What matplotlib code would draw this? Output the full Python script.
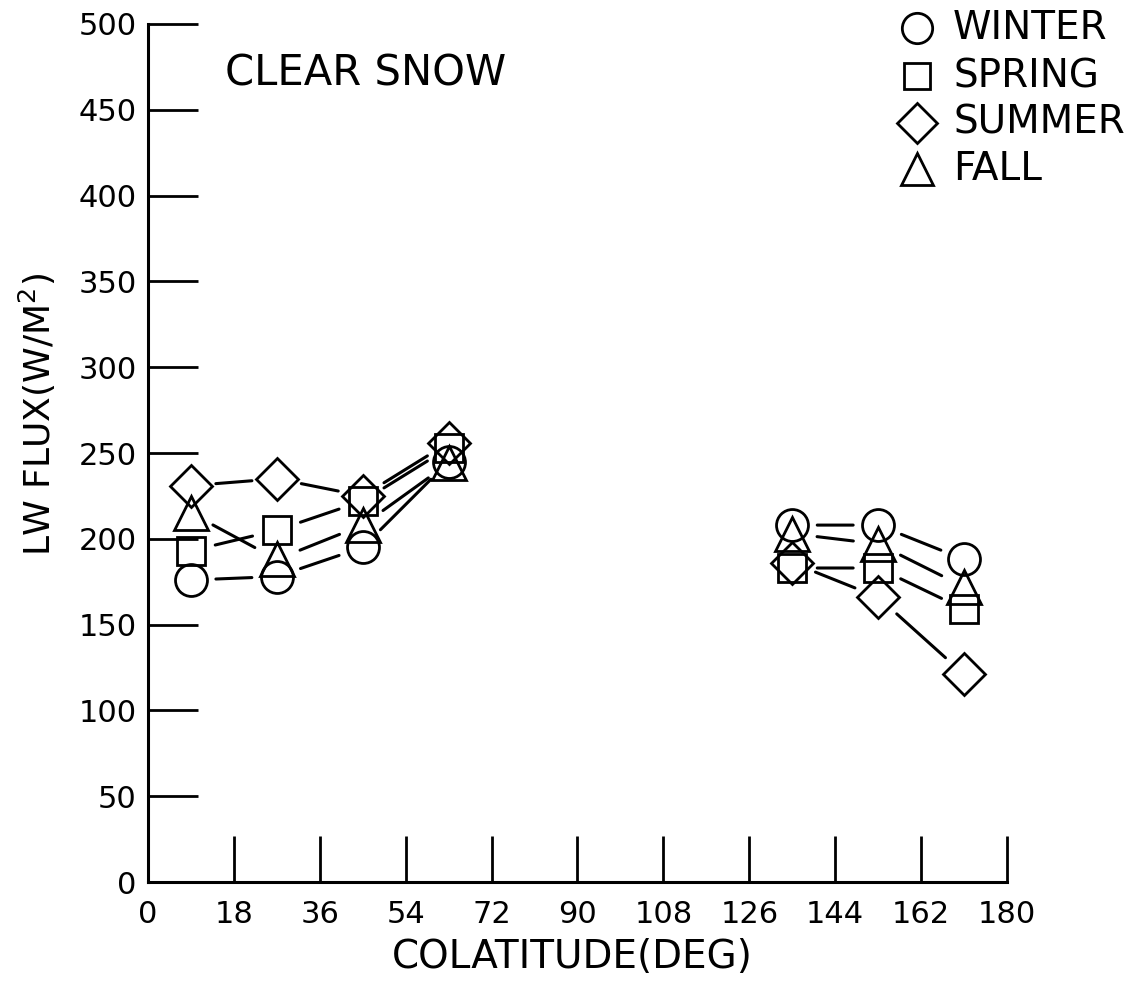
import matplotlib
matplotlib.use("Agg")
import matplotlib.pyplot as plt
from matplotlib.lines import Line2D

# colatitude bands (deg) that have clear-snow scenes
colat_left = [9, 27, 45, 63]
colat_right = [135, 153, 171]

# LW flux (W/m^2) per season
winter = [176, 178, 195, 245, 208, 208, 188]
spring = [193, 205, 222, 253, 183, 183, 159]
summer = [231, 235, 225, 256, 186, 166, 121]
fall = [215, 188, 208, 244, 203, 197, 172]

seasons = ["WINTER", "SPRING", "SUMMER", "FALL"]
markers = ["o", "s", "D", "^"]
msizes = [23, 20, 21, 24]

x_ticks = list(range(0, 181, 18))
y_ticks = list(range(0, 501, 50))

plt.rcParams['font.family'] = ['DejaVu Sans']

fig = plt.figure(figsize=(11.33, 9.83), dpi=100)
ax = fig.add_axes([0.1306, 0.1027, 0.7582, 0.8729])

colat = colat_left + colat_right
series = [winter, spring, summer, fall]

for vals, mk, ms in zip(series, markers, msizes):
    # connecting lines, shortened so they stop before the symbols
    for group in (range(0, 4), range(4, 7)):
        idx = list(group)
        for a, b in zip(idx[:-1], idx[1:]):
            ax.annotate("", xy=(colat[b], vals[b]), xytext=(colat[a], vals[a]),
                        arrowprops=dict(arrowstyle="-", lw=2.2, color="black",
                                        shrinkA=18, shrinkB=18),
                        zorder=1)
    ax.plot(colat, vals, linestyle="none", marker=mk, markersize=ms,
            markerfacecolor="none", markeredgecolor="black",
            markeredgewidth=2.0, zorder=3, clip_on=False)

ax.set_xlim(0, 180)
ax.set_ylim(0, 500)
ax.set_xticks(x_ticks)
ax.set_yticks(y_ticks)
ax.tick_params(axis="x", direction="in", length=33, width=2, pad=13, labelsize=22)
ax.tick_params(axis="y", direction="in", length=36, width=2, pad=8, labelsize=22)

ax.spines["top"].set_visible(False)
ax.spines["right"].set_visible(False)
ax.spines["left"].set_linewidth(2.2)
ax.spines["bottom"].set_linewidth(2.2)

fig.text(572 / 1133, 1 - 957 / 983, "COLATITUDE(DEG)", fontsize=28,
         ha="center", va="center")
fig.text(37 / 1133, 1 - 415 / 983, "LW FLUX(W/M$^2$)", fontsize=26,
         ha="center", va="center", rotation=90)

fig.text(225 / 1133, 1 - 85 / 983, "CLEAR SNOW", fontsize=30,
         ha="left", va="baseline")

# legend in the upper right corner
leg_y = [28, 76, 123, 169]
for name, mk, ms, yy in zip(seasons, markers, msizes, leg_y):
    fig.add_artist(Line2D([917 / 1133], [1 - yy / 983], marker=mk,
                          markersize=ms * 0.95, markerfacecolor="none",
                          markeredgecolor="black", markeredgewidth=2.0,
                          transform=fig.transFigure))
    fig.text(953 / 1133, 1 - yy / 983, name, fontsize=28,
             ha="left", va="center")

fig.savefig("out.png", dpi=100)
